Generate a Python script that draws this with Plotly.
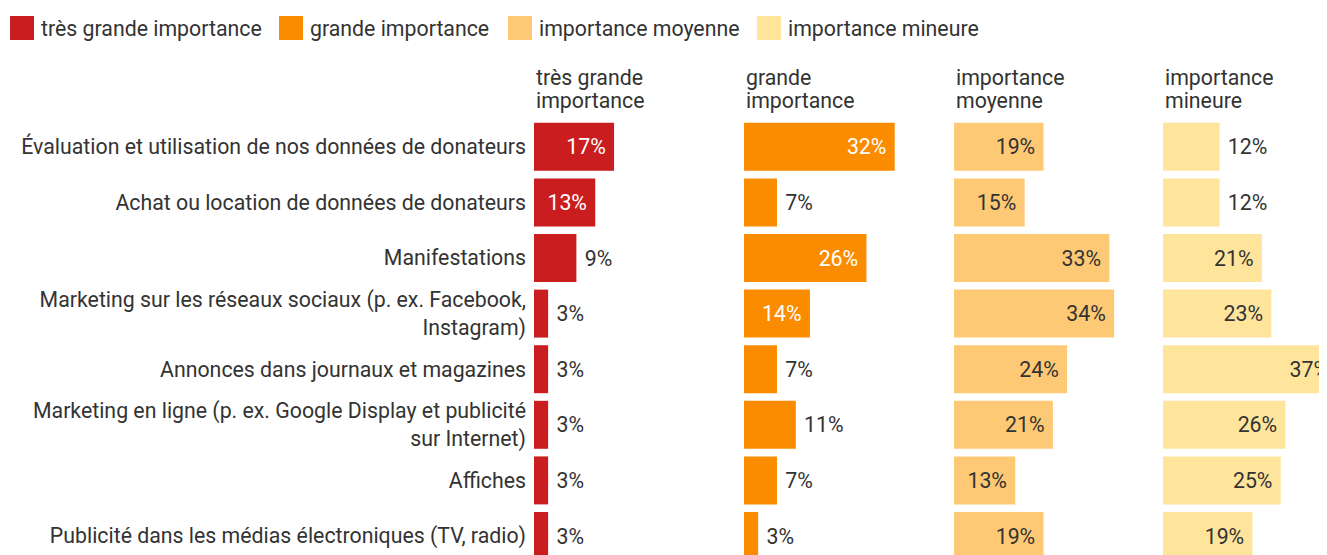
import plotly.graph_objects as go

# The page adds an 8px body margin; the figure is sized to fill the rest.
W, H = 1319, 547
FONT = "Roboto"
FS = 21.3
TXT = "#333333"

categories = [
    "Évaluation et utilisation de nos données de donateurs",
    "Achat ou location de données de donateurs",
    "Manifestations",
    "Marketing sur les réseaux sociaux (p. ex. Facebook,<br>Instagram)",
    "Annonces dans journaux et magazines",
    "Marketing en ligne (p. ex. Google Display et publicité<br>sur Internet)",
    "Affiches",
    "Publicité dans les médias électroniques (TV, radio)",
]

series_names = ["très grande importance", "grande importance",
                "importance moyenne", "importance mineure"]
header_lines = [["très grande", "importance"], ["grande", "importance"],
                ["importance", "moyenne"], ["importance", "mineure"]]

tres_grande = [17, 13, 9, 3, 3, 3, 3, 3]
grande = [32, 7, 26, 14, 7, 11, 7, 3]
moyenne = [19, 15, 33, 34, 24, 21, 13, 19]
mineure = [12, 12, 21, 23, 37, 26, 25, 19]
series_values = [tres_grande, grande, moyenne, mineure]

colors = ["#C91D1F", "#FB8C00", "#FEC974", "#FFE49C"]
inside_text_colors = ["#FFFFFF", "#FFFFFF", TXT, TXT]

# layout geometry (pixels, figure coordinates)
MT = 111
plot_h = H - MT
row_pitch = 55.6
px_per_pct = 4.71
panel_starts = [526, 736, 946, 1155]
panel_width = 200
inside_threshold = 13


def py2paper(py):
    return 1 + (MT - py) / plot_h


fig = go.Figure()
for i, (name, vals) in enumerate(zip(series_names, series_values)):
    positions = ["inside" if v >= inside_threshold else "outside" for v in vals]
    texts = [f"{v}%\u00a0" if p == "inside" else f"\u00a0{v}%" for v, p in zip(vals, positions)]
    tcolors = [inside_text_colors[i] if p == "inside" else TXT for p in positions]
    ax = "x" if i == 0 else f"x{i+1}"
    fig.add_trace(go.Bar(
        x=vals, y=categories, orientation="h", name=name,
        xaxis=ax, yaxis="y",
        marker=dict(color=colors[i], line=dict(width=0)),
        text=texts, textposition=positions, insidetextanchor="end",
        textfont=dict(family=FONT, size=FS, color=tcolors),
        constraintext="none", textangle=0, cliponaxis=True,
        showlegend=False, hoverinfo="x+y",
    ))

layout = dict(
    width=W, height=H,
    margin=dict(l=0, r=0, t=MT, b=0, pad=0),
    paper_bgcolor="white", plot_bgcolor="white",
    font=dict(family=FONT, size=FS, color=TXT),
    bargap=0.137,
    yaxis=dict(
        categoryorder="array", categoryarray=categories,
        range=[-0.5 + plot_h / row_pitch, -0.5],
        showgrid=False, zeroline=False, showline=False,
        ticks="", ticklabelstandoff=7,
        tickfont=dict(family=FONT, size=FS, color=TXT),
        anchor="x", automargin=False,
    ),
)
for i, start in enumerate(panel_starts):
    key = "xaxis" if i == 0 else f"xaxis{i+1}"
    end = min(start + panel_width, W)
    width_px = end - start
    layout[key] = dict(
        domain=[start / W, end / W],
        range=[0, width_px / px_per_pct],
        showgrid=False, zeroline=False, showline=False,
        showticklabels=False, ticks="", anchor="y", automargin=False,
        fixedrange=True,
    )
fig.update_layout(**layout)

annotations = []
shapes = []
# column headers
for i, lines in enumerate(header_lines):
    ref = "x domain" if i == 0 else f"x{i+1} domain"
    for j, line in enumerate(lines):
        annotations.append(dict(
            text=line, xref=ref, x=0, xanchor="left",
            yref="paper", y=py2paper(69 + 24 * j), yanchor="middle",
            showarrow=False, font=dict(family=FONT, size=FS, color=TXT),
        ))

# legend (manual, large squares)
legend_x = [2, 271, 500, 749]
for i, name in enumerate(series_names):
    x0 = legend_x[i]
    shapes.append(dict(
        type="rect", xref="paper", yref="paper",
        x0=x0 / W, x1=(x0 + 24) / W, y0=py2paper(32), y1=py2paper(8),
        fillcolor=colors[i], line=dict(width=0),
    ))
    annotations.append(dict(
        text=name, xref="paper", x=(x0 + 29) / W, xanchor="left",
        yref="paper", y=py2paper(20), yanchor="middle",
        showarrow=False, font=dict(family=FONT, size=FS, color=TXT),
    ))

fig.update_layout(annotations=annotations, shapes=shapes)
fig.write_html("out.html")
